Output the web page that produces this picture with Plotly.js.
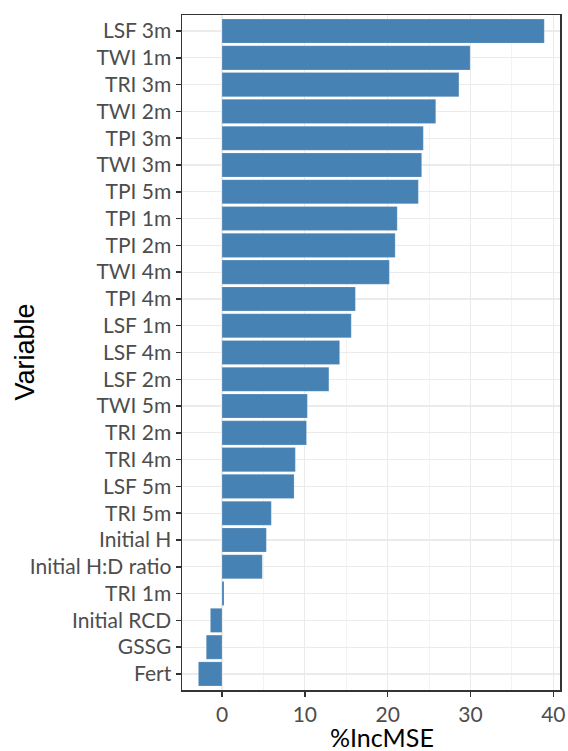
<!DOCTYPE html>
<html>
<head>
<meta charset="utf-8">
<script src="https://cdn.plot.ly/plotly-3.0.1.min.js"></script>
<style>html,body{margin:0;padding:0;background:#fff;}#chart{width:568px;height:751px;}</style>
</head>
<body>
<div id="chart"></div>
<script>
// Categories listed top to bottom
var variables = ["LSF 3m","TWI 1m","TRI 3m","TWI 2m","TPI 3m","TWI 3m","TPI 5m","TPI 1m","TPI 2m","TWI 4m",
  "TPI 4m","LSF 1m","LSF 4m","LSF 2m","TWI 5m","TRI 2m","TRI 4m","LSF 5m","TRI 5m","Initial H",
  "Initial H:D ratio","TRI 1m","Initial RCD","GSSG","Fert"];
var incMSE = [38.9,29.95,28.6,25.8,24.3,24.1,23.7,21.15,20.9,20.2,
  16.1,15.6,14.2,12.9,10.3,10.2,8.85,8.7,5.95,5.35,
  4.86,0.24,-1.4,-1.9,-2.85];
var xTicks = [0,10,20,30,40];

var font = "Lato, 'Open Sans', sans-serif";
var trace = {
  type: 'bar', orientation: 'h',
  x: incMSE, y: variables,
  width: 0.9,
  marker: {color: '#4682B4', line: {color: 'rgba(255,255,255,0.4)', width: 0.5}},
  hoverinfo: 'x+y'
};
var layout = {
  width: 568, height: 751,
  margin: {l: 182, r: 8, t: 15, b: 61, pad: 0},
  paper_bgcolor: '#fff', plot_bgcolor: '#fff',
  showlegend: false,
  bargap: 0.1,
  xaxis: {
    range: [-4.83, 40.8],
    tickvals: xTicks, ticktext: xTicks.map(String),
    ticks: 'outside', ticklen: 5, tickwidth: 1.5, tickcolor: '#333333',
    tickfont: {family: font, size: 21, color: '#4D4D4D'},
    showgrid: true, gridcolor: '#EBEBEB', gridwidth: 1.2,
    minor: {tickvals: [5,15,25,35], showgrid: true, gridcolor: '#EBEBEB', gridwidth: 0.6, ticks: ''},
    zeroline: false,
    showline: true, linecolor: '#333333', linewidth: 1.5, mirror: true,
    automargin: false
  },
  yaxis: {
    type: 'category',
    categoryorder: 'array', categoryarray: variables,
    range: [24.6, -0.6],
    ticks: 'outside', ticklen: 5, tickwidth: 1.5, tickcolor: '#333333',
    tickfont: {family: font, size: 21, color: '#4D4D4D'},
    showgrid: true, gridcolor: '#EBEBEB', gridwidth: 1.2,
    zeroline: false,
    showline: true, linecolor: '#333333', linewidth: 1.5, mirror: true,
    automargin: false
  },
  annotations: [
    {text: '%IncMSE', xref: 'paper', yref: 'paper', x: 0.53, y: 0, xanchor: 'center', yanchor: 'middle',
     yshift: -47, showarrow: false, font: {family: font, size: 25, color: '#000'}},
    {text: 'Variable', xref: 'paper', yref: 'paper', x: 0, y: 0.5, xanchor: 'center', yanchor: 'middle',
     xshift: -158, textangle: -90, showarrow: false, font: {family: "'Liberation Sans', Arial, sans-serif", size: 27, color: '#000'}}
  ]
};
Plotly.newPlot('chart', [trace], layout, {displayModeBar: false, staticPlot: true});
</script>
</body>
</html>
